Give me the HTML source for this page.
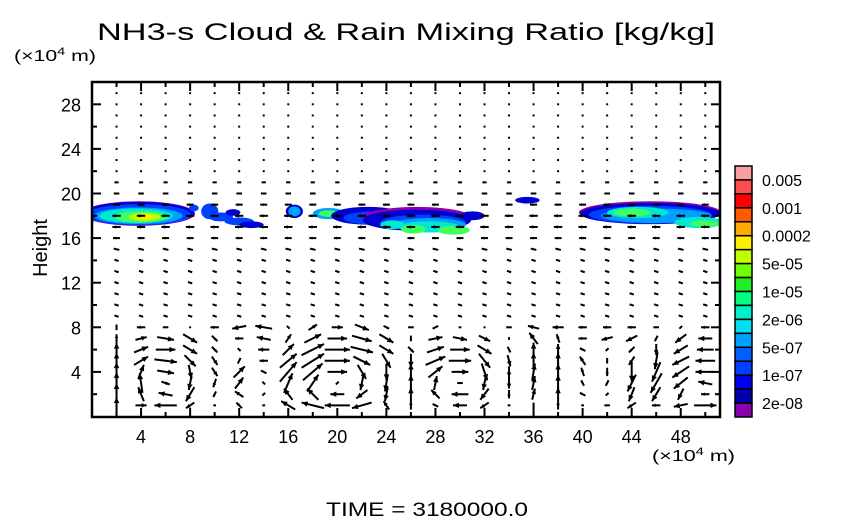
<!DOCTYPE html>
<html><head><meta charset="utf-8"><style>
body{margin:0;background:#fff;}
svg{display:block;font-family:"Liberation Sans",sans-serif;}
</style></head><body>
<svg id="chart" width="854" height="519" viewBox="0 0 854 519" xmlns="http://www.w3.org/2000/svg">
<text x="406" y="40" font-size="24" text-anchor="middle" textLength="618" lengthAdjust="spacingAndGlyphs">NH3-s Cloud &amp; Rain Mixing Ratio [kg/kg]</text>
<text x="14" y="61" font-size="16" textLength="82" lengthAdjust="spacingAndGlyphs">(×10<tspan font-size="11" dy="-6">4</tspan><tspan dy="6"> m)</tspan></text>
<text x="652" y="461" font-size="16" textLength="83" lengthAdjust="spacingAndGlyphs">(×10<tspan font-size="11" dy="-6">4</tspan><tspan dy="6"> m)</tspan></text>
<text x="47" y="248" font-size="20" text-anchor="middle" transform="rotate(-90 47 248)">Height</text>
<text x="427" y="516" font-size="19" text-anchor="middle" textLength="202" lengthAdjust="spacingAndGlyphs">TIME = 3180000.0</text>
<defs><clipPath id="plotclip"><rect x="92" y="82" width="628" height="335"/></clipPath></defs>
<g id="blobs" clip-path="url(#plotclip)"></g>
<g id="arrows" clip-path="url(#plotclip)"></g>
<g id="axes"></g>
<g id="cbar"></g>
</svg>
<script>
const XT=[4,8,12,16,20,24,28,32,36,40,44,48];
const YT=[4,8,12,16,20,24,28];
const CB_LABELS=["0.005","0.001","0.0002","5e-05","1e-05","2e-06","5e-07","1e-07","2e-08"];
const CB_COLORS=["#f8a0a0","#ff4c50","#ff0000","#ff5a00","#ffaa00","#ffee00","#c0ff00","#70ff00","#20f020","#00ff80","#00f0c8","#00e0f0","#00a0ff","#0060ff","#0040ff","#0000f0","#0000aa","#8800b0"];
const LEVEL_COLORS=["#8800b0","#0000d0","#0040ff","#00a0ff","#00e8d0","#40ff60","#c0ff00","#ffee00"];
const BX=[3.8,3.8,3.8,3.8,3.6,4.0,4.3,4.3, 8.3,9.6,10.5,12,13,11.5, 16.5,16.5,19.3,19.3,22.5,23,26.5,26.5,27,27.5,27.5,26.2,29.5,24.5,31,35.5, 45.5,45.5,45.5,46,44.5,44,49.5,50];
const BY=[18.2,18.2,18.1,18.0,18.0,17.9,17.9,17.9, 18.7,18.4,17.9,17.5,17.2,18.3, 18.4,18.4,18.2,18.2,18.0,17.8,17.8,17.6,17.4,17.2,17.0,16.8,16.7,17.2,18.0,19.4, 18.3,18.2,18.1,18.0,18.3,18.3,17.4,17.3];
const BRX=[4.6,4.5,4.3,3.6,3.0,2.2,1.3,0.6, 0.4,0.7,1.0,1.2,1.0,0.6, 0.7,0.5,1.3,0.8,3.0,2.5,4.5,4.4,3.5,3.0,2.5,1.0,1.3,1.0,1.0,1.0, 5.8,5.7,5.0,4.5,2.5,1.5,2.0,1.2];
const BRY=[1.1,1.05,0.95,0.75,0.65,0.5,0.35,0.2, 0.3,0.7,0.4,0.35,0.3,0.3, 0.6,0.45,0.5,0.3,0.8,0.6,1.0,0.95,0.7,0.6,0.5,0.4,0.4,0.4,0.4,0.3, 1.0,0.95,0.8,0.65,0.5,0.35,0.5,0.3];
const BL=[0,1,2,3,4,5,6,7, 2,2,2,2,1,1, 1,3,3,5,1,2,0,1,2,3,4,5,5,4,1,1, 0,1,2,3,4,5,4,5];
const COLS=[2,4,6,8,10,12,14,16,18,20,22,24,26,28,30,32,34,36,38,40,42,44,46,48,50];
const U_LOW=[
[0,8,-16,-6,-2,-4,-2,-10,-16,-18,-14,-4,0,-4,-10,-6,-2,0,0,-2,-4,-6,-6,-10,16],
[0,-4,-10,-6,-2,-6,-2,-6,-8,-10,-8,-2,0,-6,-12,-6,0,2,0,-4,-2,-4,-6,-4,-6],
[0,-2,6,-2,-2,6,-2,6,8,2,-2,-2,0,2,4,-2,0,2,0,-2,-2,-6,-8,-10,-10],
[0,4,12,2,4,8,-4,12,14,14,6,0,0,10,12,4,0,2,0,-2,0,0,-6,-12,-14],
[0,10,16,8,4,2,-6,12,16,18,12,6,0,14,16,8,2,0,0,-4,0,-4,-2,-12,-14],
[0,10,14,10,4,-2,-8,8,16,18,16,10,4,12,14,10,2,0,0,-4,-2,-4,0,-10,-12],
[0,8,12,10,4,-6,-10,4,12,14,14,10,0,10,10,8,0,-6,-2,-6,-8,-8,-2,-8,-10],
[0,-6,-4,0,-6,-10,-12,-2,6,8,10,4,-4,4,2,0,-4,-8,-8,-6,-6,-6,-4,-2,-6]];
const W_LOW=[
[12,0,0,-4,0,4,0,6,4,0,-4,6,6,2,0,-4,0,4,6,0,0,-4,0,-2,0],
[16,10,2,-10,-4,4,-2,8,8,0,-6,-10,10,6,0,-8,-6,8,10,2,-2,-10,-10,-8,0],
[16,14,-2,-10,-6,8,2,14,12,2,-10,-12,12,10,0,-10,-8,10,12,4,-4,-12,-14,-8,2],
[14,10,-2,-10,-6,8,2,14,12,0,-10,-12,12,8,0,-12,-8,12,12,6,-6,-14,-14,-8,0],
[12,6,-2,-8,-6,4,0,10,10,0,-6,-10,-10,6,0,-10,-8,12,12,6,-4,-6,-12,-6,0],
[10,4,0,-6,-4,2,0,8,8,0,-4,-6,-4,4,0,-6,-4,10,8,2,-2,-4,-8,-6,0],
[6,2,-2,-6,-4,0,2,6,6,0,-4,-6,-4,2,-2,-4,-2,8,6,0,-2,-4,-4,-6,0],
[4,0,0,0,0,-2,2,2,4,0,-4,-2,0,2,0,0,0,2,0,0,0,0,0,-2,0]];
const U_UP=[-3,-3,-3,-3,-3,-3,-4,-5,-6,-6,-5,-4,-3,-1,-1,0,0,0,0,0,0];
const W_UP=[1,1,1,1,1,1,1,0,0,0,0,0,0,0,0,0,0,0,0,0,0];
const NS="http://www.w3.org/2000/svg";
const X0=92,X1=720,Y0=417,Y1=82,XMAX=51.2,YMAX=30;
const xs=v=>X0+(X1-X0)*v/XMAX;
const ys=v=>416.5-11.15*v;
function mk(tag,attrs,parent){const e=document.createElementNS(NS,tag);for(const k in attrs)e.setAttribute(k,attrs[k]);parent.appendChild(e);return e;}
const blobs=document.getElementById('blobs');
for(let i=0;i<BX.length;i++){
 const e=mk('ellipse',{cx:xs(BX[i]),cy:ys(BY[i]),rx:BRX[i]*12.27,ry:BRY[i]*11.15,fill:LEVEL_COLORS[BL[i]]},blobs);
 
 
}
const arrows=document.getElementById('arrows');
function arrow(cx,cy,u,w){
 const dx=u*1.4,dy=-w*1.4;
 const x1=cx-dx/2,y1=cy-dy/2,x2=cx+dx/2,y2=cy+dy/2;
 const L=Math.hypot(dx,dy);
 const g=mk('g',{},arrows);
 
 
 if(L<2){mk('rect',{x:cx-1,y:cy-1,width:2,height:2,fill:'#000'},g);return;}
 mk('line',{x1:x1,y1:y1,x2:x2,y2:y2,stroke:'#000','stroke-width':2},g);
 const h=Math.min(6,L*0.45),ux=dx/L,uy=dy/L;
 const px=-uy,py=ux;
 mk('polygon',{points:`${x2},${y2} ${x2-ux*h+px*h*0.45},${y2-uy*h+py*h*0.45} ${x2-ux*h-px*h*0.45},${y2-uy*h-py*h*0.45}`,fill:'#000'},g);
}
for(let r=0;r<29;r++){
 const yv=r+1;
 for(let c=0;c<COLS.length;c++){
  let u,w;
  if(r<8){u=U_LOW[r][c];w=W_LOW[r][c];}else{u=U_UP[r-8];w=W_UP[r-8];}
  arrow(xs(COLS[c]),ys(yv),u,w);
 }
}
const axes=document.getElementById('axes');
const fr=mk('rect',{x:X0,y:Y1,width:X1-X0,height:Y0-Y1,fill:'none',stroke:'#000','stroke-width':2.5},axes);


for(let v=2;v<XMAX;v+=2){
 const major=v%4===0,l=major?9:5;
 mk('line',{x1:xs(v),y1:Y0,x2:xs(v),y2:Y0-l,stroke:'#000','stroke-width':2},axes);
 mk('line',{x1:xs(v),y1:Y1,x2:xs(v),y2:Y1+l,stroke:'#000','stroke-width':2},axes);
}
for(let v=2;v<YMAX;v+=2){
 const major=v%4===0,l=major?9:5;
 mk('line',{x1:X0,y1:ys(v),x2:X0+l,y2:ys(v),stroke:'#000','stroke-width':2},axes);
 mk('line',{x1:X1,y1:ys(v),x2:X1-l,y2:ys(v),stroke:'#000','stroke-width':2},axes);
}
XT.forEach(v=>{const t=mk('text',{x:xs(v),y:443,'font-size':18,'text-anchor':'middle'},axes);t.textContent=v;
 
 });
YT.forEach(v=>{const t=mk('text',{x:81,y:ys(v)+7,'font-size':18,'text-anchor':'end'},axes);t.textContent=v;
 
 });
const cbar=document.getElementById('cbar');
const BH=251/CB_COLORS.length;
CB_COLORS.forEach((c,i)=>{const r=mk('rect',{x:735,y:166+i*BH,width:17,height:BH,fill:c,stroke:'#000','stroke-width':1.5},cbar);
 
 });
CB_LABELS.forEach((s,i)=>{const t=mk('text',{x:762,y:166+(2*i+1)*BH+6,'font-size':16},cbar);t.textContent=s;
 
 });
</script>
</body></html>
